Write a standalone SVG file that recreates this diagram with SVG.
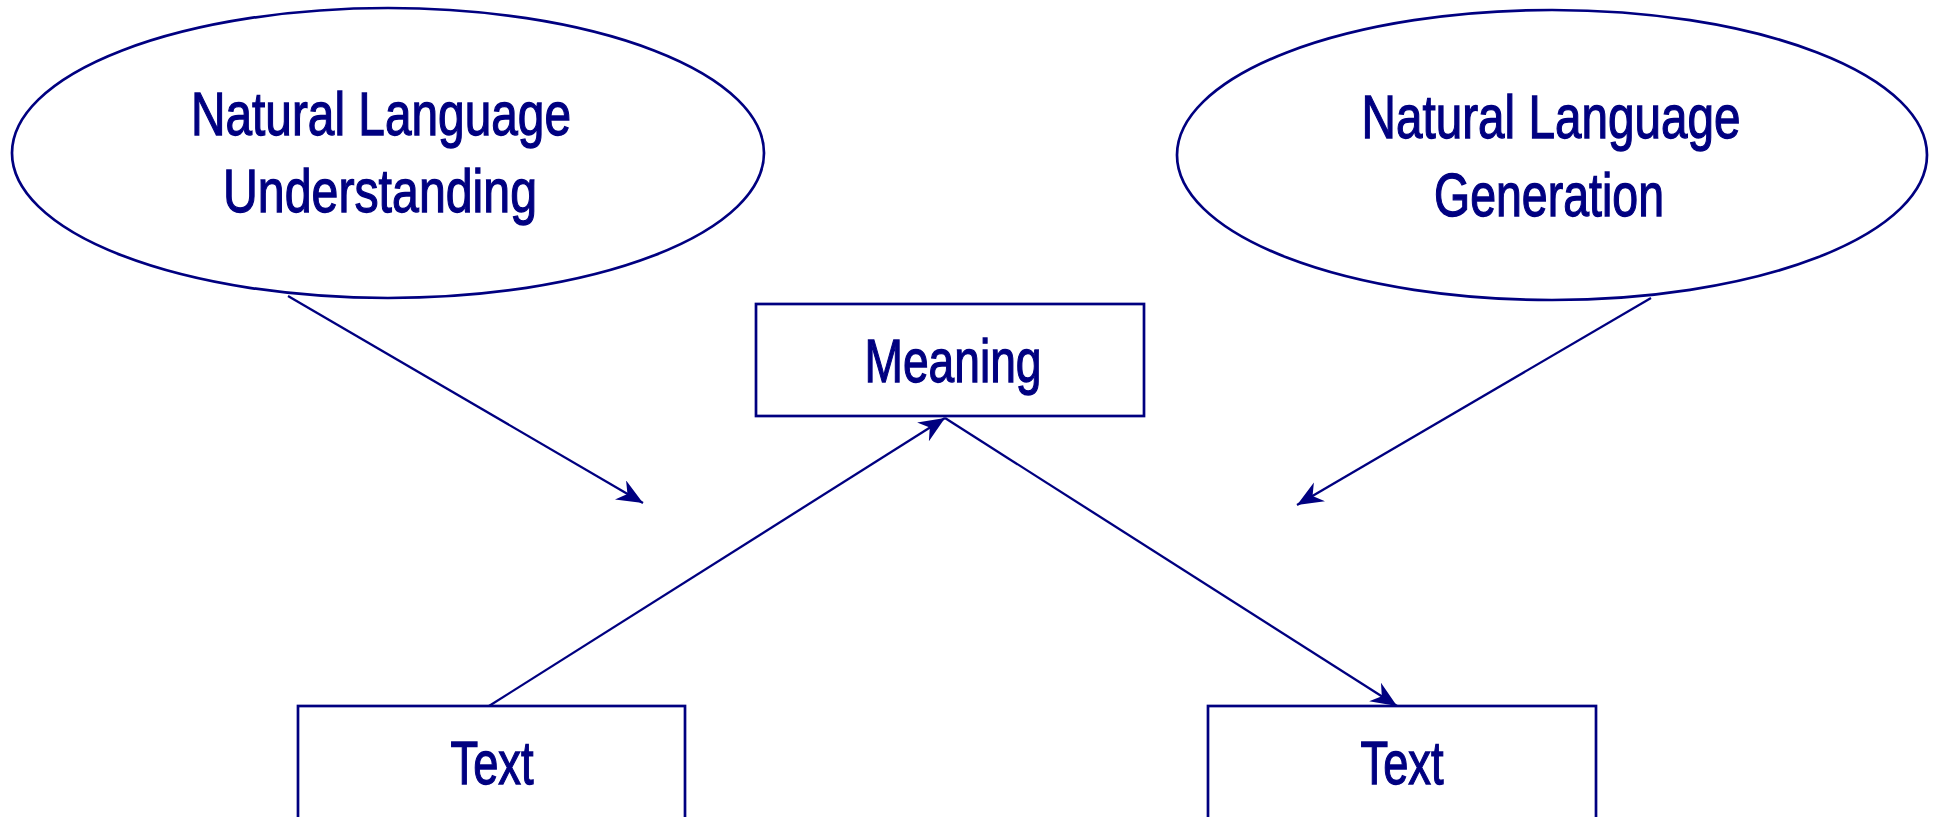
<svg xmlns="http://www.w3.org/2000/svg" width="1933" height="817" viewBox="0 0 1933 817">
<style>
.shape{fill:#fff;stroke:#000080;stroke-width:2.7}
.lbl{font-family:"Liberation Sans",Arial,sans-serif;font-size:61px;fill:#000080;stroke:#000080;stroke-width:1.3;text-anchor:middle}
.edge{stroke:#000080;stroke-width:2.3;fill:none;marker-end:url(#arr)}
</style>
<defs>
<marker id="arr" markerUnits="userSpaceOnUse" markerWidth="30" markerHeight="24" refX="26" refY="11" orient="auto">
<path d="M26,11 L0,0 L8,11 L0,22 Z" fill="#000080"/>
</marker>
</defs>
<rect width="1933" height="817" fill="#fff"/>
<g id="nlu">
<ellipse class="shape" cx="388" cy="153" rx="376" ry="145"/>
<text class="lbl" x="381" y="135" textLength="380" lengthAdjust="spacingAndGlyphs">Natural Language</text>
<text class="lbl" x="380" y="212" textLength="314" lengthAdjust="spacingAndGlyphs">Understanding</text>
</g>
<g id="nlg">
<ellipse class="shape" cx="1552" cy="155" rx="375" ry="145"/>
<text class="lbl" x="1551" y="138" textLength="379" lengthAdjust="spacingAndGlyphs">Natural Language</text>
<text class="lbl" x="1549" y="216" textLength="230" lengthAdjust="spacingAndGlyphs">Generation</text>
</g>
<g id="meaning">
<rect class="shape" x="756" y="304" width="388" height="112"/>
<text class="lbl" x="953" y="382" textLength="177" lengthAdjust="spacingAndGlyphs">Meaning</text>
</g>
<g id="text-left">
<rect class="shape" x="298" y="706" width="387" height="130"/>
<text class="lbl" x="492" y="784" textLength="83" lengthAdjust="spacingAndGlyphs">Text</text>
</g>
<g id="text-right">
<rect class="shape" x="1208" y="706" width="388" height="130"/>
<text class="lbl" x="1402" y="784" textLength="83" lengthAdjust="spacingAndGlyphs">Text</text>
</g>
<g id="connectors">
<line class="edge" x1="288" y1="296" x2="643" y2="503"/>
<line class="edge" x1="1651" y1="298" x2="1297" y2="505"/>
<line class="edge" x1="489" y1="706" x2="945" y2="418"/>
<line class="edge" x1="945" y1="418" x2="1397" y2="706"/>
</g>
</svg>
